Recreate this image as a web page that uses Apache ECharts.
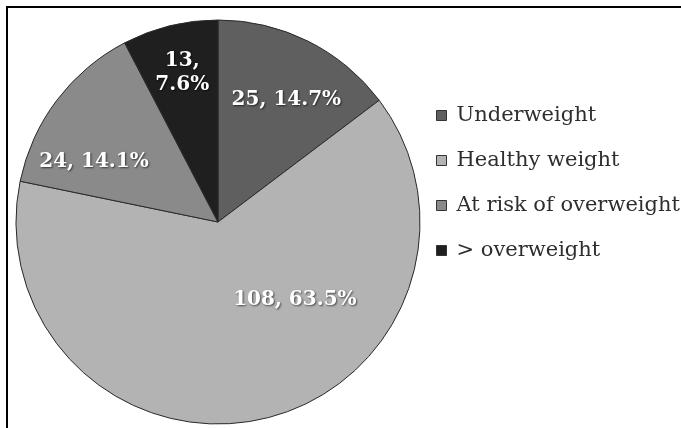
<!DOCTYPE html>
<html>
<head>
<meta charset="utf-8">
<script src="https://cdn.jsdelivr.net/npm/echarts@6/dist/echarts.min.js"></script>
<style>
  html, body { margin: 0; padding: 0; background: #fff; }
  #chart { width: 681px; height: 428px; position: absolute; left: 0; top: 0; }
  #frame { position: absolute; left: 6px; top: 6px; right: 0; bottom: 0;
           border-top: 2px solid #000; border-left: 2px solid #000; pointer-events: none; }
</style>
</head>
<body>
<div id="chart"></div>
<div id="frame"></div>
<script>
var categories = ['Underweight', 'Healthy weight', 'At risk of overweight', '> overweight'];
var values = [25, 108, 24, 13];
var colors = ['#5f5f5f', '#b3b3b3', '#8a8a8a', '#1f1f1f'];

var total = values.reduce(function (a, b) { return a + b; }, 0);

// label nudges (px) away from the default inside position
var labelShift = [[22, -29], [54, -24], [-41, 2], [-11, -48]];

var chart = echarts.init(document.getElementById('chart'), null, { renderer: 'canvas' });
chart.setOption({
  animation: false,
  backgroundColor: '#fff',
  legend: {
    orient: 'vertical',
    left: 436,
    top: 105,
    padding: 0,
    icon: 'rect',
    itemWidth: 10,
    itemHeight: 10,
    itemGap: 24,
    itemStyle: { borderColor: '#333', borderWidth: 1 },
    textStyle: {
      fontFamily: 'DejaVu Serif',
      fontSize: 21,
      lineHeight: 21,
      color: '#2e2e2e',
      padding: [0, 0, 0, 5]
    },
    data: categories
  },
  series: [{
    type: 'pie',
    center: [218, 222],
    radius: 202,
    startAngle: 90,
    clockwise: true,
    silent: true,
    itemStyle: { borderColor: '#2a2a2a', borderWidth: 1 },
    label: {
      show: true,
      position: 'inside',
      fontFamily: 'DejaVu Serif',
      fontWeight: 'bold',
      fontSize: 20,
      lineHeight: 24,
      color: '#fff',
      textShadowColor: 'rgba(0,0,0,0.6)',
      textShadowBlur: 2,
      textShadowOffsetX: 1,
      textShadowOffsetY: 1,
      formatter: function (p) {
        var pct = (p.value / total * 100).toFixed(1) + '%';
        return p.dataIndex === 3 ? p.value + ',\n' + pct : p.value + ', ' + pct;
      }
    },
    labelLayout: function (p) {
      var s = labelShift[p.dataIndex];
      return { dx: s[0], dy: s[1] };
    },
    labelLine: { show: false },
    data: categories.map(function (c, i) {
      return { name: c, value: values[i], itemStyle: { color: colors[i] } };
    })
  }]
});
</script>
</body>
</html>
